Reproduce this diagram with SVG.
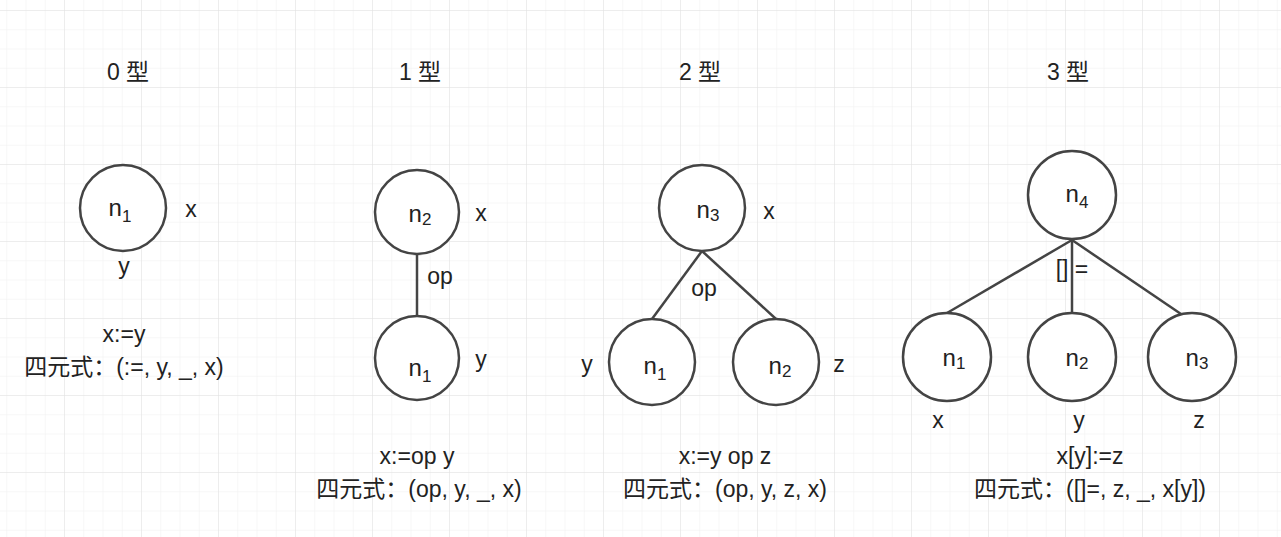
<svg xmlns="http://www.w3.org/2000/svg" width="1281" height="537" viewBox="0 0 1281 537">
<defs>
<pattern id="minor" width="19.25" height="19.25" patternUnits="userSpaceOnUse" x="-12" y="11">
<path d="M19.25 0V19.25M0 19.25H19.25" fill="none" stroke="#efefef" stroke-width="1"/>
</pattern>
<pattern id="major" width="77" height="77" patternUnits="userSpaceOnUse" x="-12" y="11">
<path d="M77 0V77M0 77H77" fill="none" stroke="#e2e2e2" stroke-width="1"/>
</pattern>
</defs>
<style>
text{font-family:"Liberation Sans","Noto Sans CJK SC",sans-serif;font-size:23px;fill:#222;text-anchor:middle}
.n{fill:#fff;stroke:#444;stroke-width:2.5}
.e{stroke:#444;stroke-width:2.5;fill:none}
.s{font-size:17px}
.l{font-size:24px}
</style>
<rect width="1281" height="537" fill="#fff"/>
<rect width="1281" height="537" fill="url(#minor)"/>
<rect width="1281" height="537" fill="url(#major)"/>
<g id="titles">
<text x="128" y="80">0 型</text>
<text x="420" y="80">1 型</text>
<text x="700" y="80">2 型</text>
<text x="1068" y="80">3 型</text>
</g>
<g id="connectors">
<line class="e" x1="417" y1="254" x2="417" y2="316"/>
<line class="e" x1="702" y1="251" x2="652" y2="319"/>
<line class="e" x1="702" y1="251" x2="776" y2="319"/>
<line class="e" x1="1072" y1="240" x2="947" y2="313"/>
<line class="e" x1="1072" y1="240" x2="1072" y2="313"/>
<line class="e" x1="1072" y1="240" x2="1181" y2="314"/>
</g>
<g id="t0">
<g id="t0n1"><circle class="n" cx="123" cy="208" r="43"/><text class="l" x="120" y="216">n<tspan class="s" dy="6">1</tspan></text></g>
<text x="191" y="217">x</text><text x="124" y="274">y</text>
<text x="124" y="342">x:=y</text><text x="124" y="375">四元式：(:=, y, _, x)</text>
</g>
<g id="t1">
<g id="t1n2"><circle class="n" cx="417" cy="212" r="42"/><text class="l" x="420" y="222">n<tspan class="s" dy="3">2</tspan></text></g>
<g id="t1n1"><circle class="n" cx="417" cy="358" r="42"/><text class="l" x="420" y="376">n<tspan class="s" dy="6">1</tspan></text></g>
<text x="481" y="221">x</text><text x="440" y="284">op</text><text x="481" y="367">y</text>
<text x="417" y="464">x:=op y</text><text x="419" y="497">四元式：(op, y, _, x)</text>
</g>
<g id="t2">
<g id="t2n3"><circle class="n" cx="702" cy="208" r="43"/><text class="l" x="708" y="218">n<tspan class="s" dy="3">3</tspan></text></g>
<g id="t2n1"><circle class="n" cx="652" cy="362" r="43"/><text class="l" x="655" y="374">n<tspan class="s" dy="6">1</tspan></text></g>
<g id="t2n2"><circle class="n" cx="776" cy="362" r="43"/><text class="l" x="780" y="374">n<tspan class="s" dy="3">2</tspan></text></g>
<text x="769" y="219">x</text><text x="704" y="296">op</text><text x="587" y="372">y</text><text x="839" y="372">z</text>
<text x="725" y="464">x:=y op z</text><text x="725" y="497">四元式：(op, y, z, x)</text>
</g>
<g id="t3">
<g id="t3n4"><circle class="n" cx="1072" cy="195" r="44"/><text class="l" x="1077" y="202">n<tspan class="s" dy="6">4</tspan></text></g>
<g id="t3n1"><circle class="n" cx="947" cy="357" r="44"/><text class="l" x="954" y="366">n<tspan class="s" dy="3">1</tspan></text></g>
<g id="t3n2"><circle class="n" cx="1072" cy="357" r="44"/><text class="l" x="1077" y="366">n<tspan class="s" dy="3">2</tspan></text></g>
<g id="t3n3"><circle class="n" cx="1192" cy="357" r="44"/><text class="l" x="1197" y="366">n<tspan class="s" dy="3">3</tspan></text></g>
<text x="1072" y="277">[] =</text>
<text x="938" y="428">x</text><text x="1079" y="428">y</text><text x="1199" y="428">z</text>
<text x="1090" y="464">x[y]:=z</text><text x="1090" y="497">四元式：([]=, z, _, x[y])</text>
</g>
</svg>
